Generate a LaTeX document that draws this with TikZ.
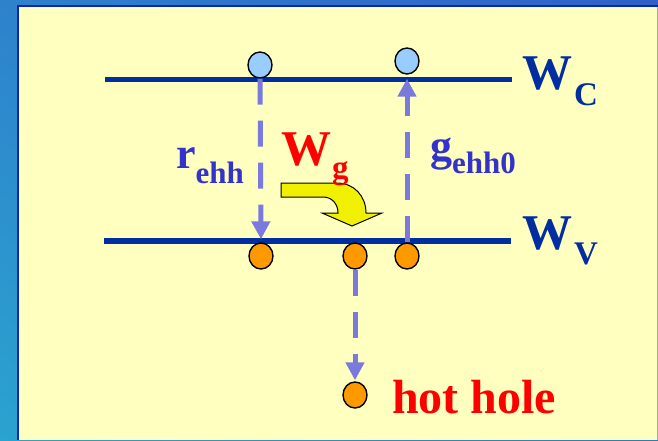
\documentclass[tikz,border=0pt]{standalone}
\usepackage{fontspec}
\setmainfont{Liberation Serif}
\usetikzlibrary{arrows.meta,shapes.geometric,shadings}
\definecolor{bgyellow}{RGB}{255,255,192}
\definecolor{linblue}{RGB}{0,45,160}
\definecolor{txtblue}{RGB}{51,51,204}
\definecolor{dashblue}{RGB}{122,122,222}
\definecolor{cblue}{RGB}{153,204,255}
\definecolor{corange}{RGB}{255,153,0}
\definecolor{arrowyellow}{RGB}{240,240,0}
\definecolor{framedark}{RGB}{10,40,170}
\definecolor{bgA}{RGB}{46,130,204}
\definecolor{bgB}{RGB}{42,163,207}
\definecolor{bgC}{RGB}{47,96,200}
\definecolor{bgD}{RGB}{44,120,204}
\begin{document}
\begin{tikzpicture}[x=1pt,y=-1pt,
  level/.style={draw=linblue,line width=5.5pt},
  upc/.style={ellipse,draw=black,line width=1.4pt,fill=cblue,minimum width=24pt,minimum height=26pt,inner sep=0pt},
  dnc/.style={ellipse,draw=black,line width=1.4pt,fill=corange,minimum width=24pt,minimum height=26pt,inner sep=0pt},
  trans/.style={draw=dashblue,line width=5pt,dash pattern=on 26pt off 16pt,-{Triangle[length=18pt,width=18pt]}},
  lbl/.style={inner sep=0pt,anchor=base west}
]
% background
\shade[upper left=bgA,lower left=bgB,upper right=bgC,lower right=bgD] (0pt,0pt) rectangle (658pt,-440pt);
\useasboundingbox (0pt,0pt) rectangle (658pt,-440pt);
\fill[bgyellow] (19,7) rectangle (658,440);
\draw[framedark,line width=2.5pt] (18,440) -- (18,5.8) -- (658,5.8);
\draw[gray!70,line width=1.2pt] (657.4,7) -- (657.4,440);

% energy levels
\coordinate (cl) at (105,79.5);
\coordinate (cr) at (512,79.5);
\coordinate (vl) at (104,241);
\coordinate (vr) at (511,241);
\draw[level] (cl) -- (cr);
\draw[level] (vl) -- (vr);

% particles
\node[upc] (c1) at (260,65) {};
\node[upc] (c2) at (407,61) {};
\node[dnc] (v1) at (261,256) {};
\node[dnc] (v2) at (355,256) {};
\node[dnc] (v3) at (407,256) {};
\node[dnc] (hh) at (355,395) {};

% transitions
\draw[trans,shorten >=3pt] (c1.south) -- (v1.north);
\draw[trans,shorten >=4pt] (v3.north) -- (c2.south);
\draw[trans,shorten >=1pt] (v2.south) -- (hh.north);

% yellow curved arrow
\draw[fill=arrowyellow,draw=black,line width=1pt,line join=miter]
  (281,183) -- (337,183) .. controls (354,183) and (366,196) .. (366,213)
  -- (382,213) -- (352,226) -- (322,213) -- (338,213)
  .. controls (338,204) and (332,197) .. (323,197) -- (281,197) -- cycle;

% labels
\node[lbl,text=linblue] (wc) at (522,89) {\fontsize{50}{50}\selectfont\bfseries W\hspace{2pt}\raisebox{-16pt}{\fontsize{33}{33}\selectfont C}};
\node[lbl,text=linblue] (wv) at (522,249) {\fontsize{50}{50}\selectfont\bfseries W\hspace{2pt}\raisebox{-15pt}{\fontsize{33}{33}\selectfont V}};
\node[lbl,text=red] (wg) at (281,165) {\fontsize{50}{50}\selectfont\bfseries W\hspace{1pt}\raisebox{-13pt}{\fontsize{33}{33}\selectfont g}};
\node[lbl,text=txtblue] (rehh) at (176,168) {\fontsize{44}{44}\selectfont\bfseries r\raisebox{-15pt}{\fontsize{31}{31}\selectfont ehh}};
\node[lbl,text=txtblue] (gehh) at (430,160) {\fontsize{44}{44}\selectfont\bfseries g\raisebox{-13pt}{\fontsize{31}{31}\selectfont ehh0}};
\node[lbl,text=red] (hot) at (392,413) {\fontsize{48}{48}\selectfont\bfseries hot hole};
\end{tikzpicture}
\end{document}
